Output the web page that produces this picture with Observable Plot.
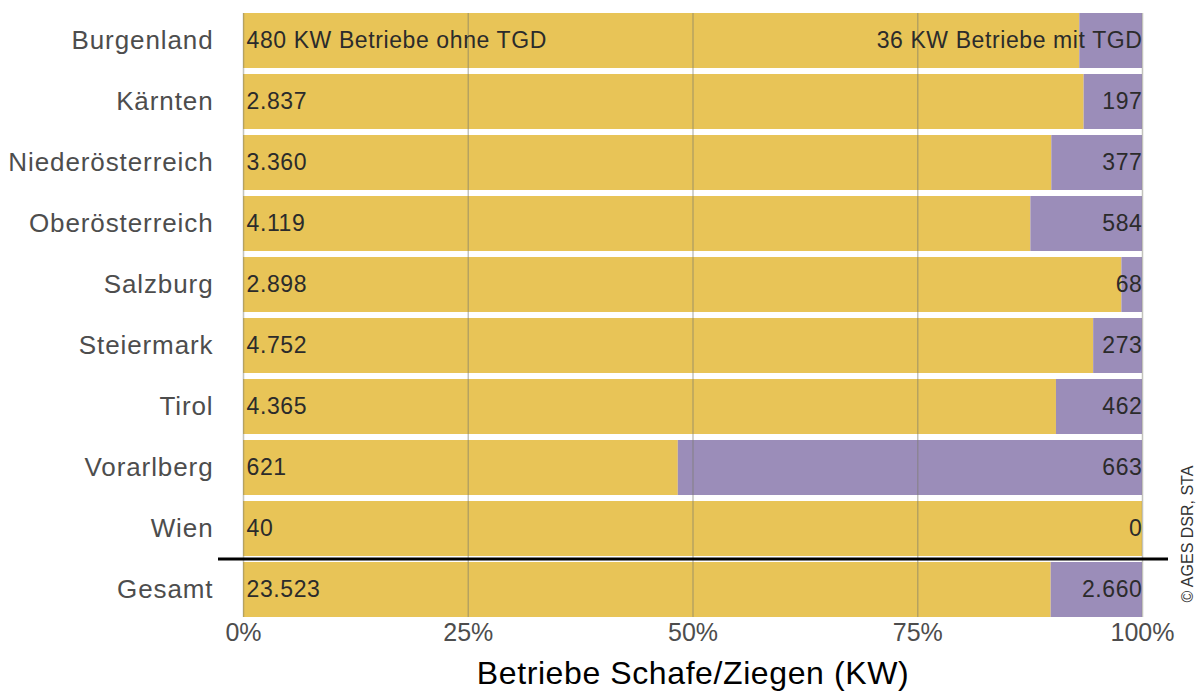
<!DOCTYPE html>
<html><head><meta charset="utf-8">
<script src="https://cdn.jsdelivr.net/npm/d3@7"></script>
<script src="https://cdn.jsdelivr.net/npm/@observablehq/plot@0.6"></script>
<style>
body{margin:0;background:#fff}
#chart g[aria-label="y-axis tick label"] text{letter-spacing:0.9px}
#chart g[aria-label="text"] text{letter-spacing:0.6px}
#chart g[aria-label="text"]:last-of-type text{letter-spacing:0}
</style>
</head><body><div id="chart"></div>
<script>
const regions = ["Burgenland","Kärnten","Niederösterreich","Oberösterreich","Salzburg","Steiermark","Tirol","Vorarlberg","Wien","Gesamt"];
const ohneTGD = [480,2837,3360,4119,2898,4752,4365,621,40,23523];
const mitTGD = [36,197,377,584,68,273,462,663,0,2660];
const types = ["ohne TGD","mit TGD"];
const colors = ["#E8C457","#9B8DB9"];
const xTicks = [0,0.25,0.5,0.75,1];
const caption = "© AGES DSR, STA";
const xLabel = "Betriebe Schafe/Ziegen (KW)";

const de = d3.formatLocale({decimal:",", thousands:".", grouping:[3], currency:["","€"]});
const fmt = de.format(",d");

const rows = regions.flatMap((r,i)=>[
  {region:r, type:types[0], value:ohneTGD[i]},
  {region:r, type:types[1], value:mitTGD[i]}
]);
const leftText = regions.map((r,i)=> i===0 ? `${ohneTGD[i]} KW Betriebe ohne TGD` : fmt(ohneTGD[i]));
const rightText = regions.map((r,i)=> i===0 ? `${mitTGD[i]} KW Betriebe mit TGD` : fmt(mitTGD[i]));

const chart = Plot.plot({
  width: 1200,
  height: 693,
  marginLeft: 243,
  marginRight: 58,
  marginTop: 13,
  marginBottom: 76,
  style: {fontFamily: '"Liberation Sans", Arial, sans-serif', background: "white"},
  x: {domain: [0,1]},
  y: {domain: regions, paddingInner: 0.1, paddingOuter: 0, label: null},
  color: {domain: types, range: colors},
  marks: [
    Plot.barX(rows, Plot.stackX({x: "value", y: "region", fill: "type", offset: "normalize"})),
    Plot.ruleX(xTicks, {stroke: "#7a7a6a", strokeOpacity: 0.45, strokeWidth: 1.5}),
    Plot.text(regions, {x: 0, y: d => d, text: (d,i) => leftText[i], textAnchor: "start", dx: 3, fontSize: 23, fill: "#2b2b2b"}),
    Plot.text(regions, {x: 1, y: d => d, text: (d,i) => rightText[i], textAnchor: "end", dx: 0, fontSize: 23, fill: "#2b2b2b"}),
    Plot.ruleY(["Gesamt"], {y: d => d, dy: -31, insetLeft: -25, insetRight: -26, stroke: "black", strokeWidth: 3}),
    Plot.axisY({fontSize: 26, tickSize: 0, tickPadding: 30, color: "#4d4d4d", label: null}),
    Plot.axisX(xTicks, {tickFormat: d => (d*100) + "%", fontSize: 25, tickSize: 0, tickPadding: 6, color: "#4d4d4d", label: null}),
    Plot.text([xLabel], {frameAnchor: "bottom", dy: 66, fontSize: 32, fill: "black"}),
    Plot.text([caption], {frameAnchor: "bottom-right", rotate: -90, textAnchor: "start", lineAnchor: "middle", dx: 45, dy: -15, fontSize: 16, fill: "#333"})
  ]
});
document.getElementById("chart").appendChild(chart);
</script>
</body></html>
